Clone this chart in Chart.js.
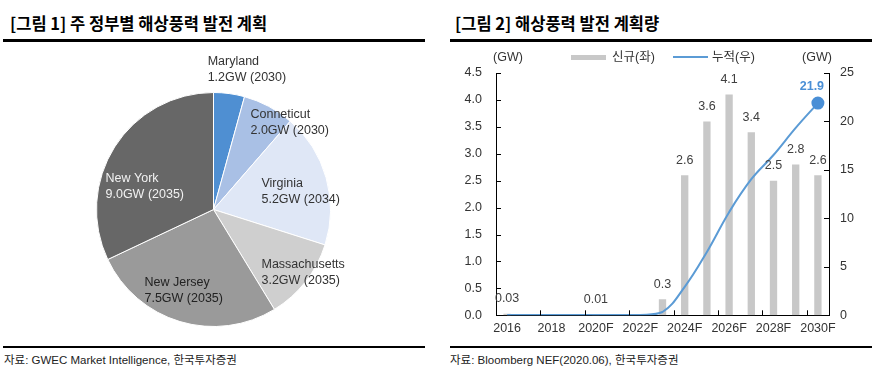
<!DOCTYPE html>
<html><head><meta charset="utf-8">
<script src="https://cdn.jsdelivr.net/npm/chart.js@4.4.1/dist/chart.umd.min.js"></script>
<style>
html,body{margin:0;padding:0;background:#fff;width:881px;height:374px;overflow:hidden;position:relative;}
.abs{position:absolute;white-space:nowrap;}
.title{font-family:"Noto Sans CJK KR",sans-serif;font-weight:700;font-size:16.5px;color:#000;line-height:20px;top:13px;}
.rule{position:absolute;background:#000;}
.src{font-family:"Liberation Sans Narrow","Liberation Sans","Noto Sans CJK KR",sans-serif;font-size:11.5px;color:#222;line-height:16px;top:352px;}
.lg{font-family:"Liberation Sans","Noto Sans CJK KR",sans-serif;font-size:12.5px;color:#333;line-height:16px;}
canvas{position:absolute;}
</style></head>
<body>
<div class="abs title" style="left:10px">[그림 1] 주 정부별 해상풍력 발전 계획</div>
<div class="abs title" style="left:455px">[그림 2] 해상풍력 발전 계획량</div>
<div class="rule" style="left:3px;top:39px;width:422px;height:3px"></div>
<div class="rule" style="left:450px;top:39px;width:422px;height:3px"></div>
<div class="rule" style="left:3px;top:346px;width:422px;height:2px"></div>
<div class="rule" style="left:450px;top:346px;width:422px;height:2px"></div>
<div class="abs src" style="left:4px">자료: GWEC Market Intelligence, 한국투자증권</div>
<div class="abs src" style="left:450px">자료: Bloomberg NEF(2020.06), 한국투자증권</div>

<canvas id="pie" width="440" height="345" style="left:0;top:0"></canvas>
<canvas id="combo" width="441" height="300" style="left:440px;top:45px"></canvas>

<div class="abs lg" style="left:478px;top:49px;width:60px;text-align:center">(GW)</div>
<div class="abs lg" style="left:787px;top:49px;width:60px;text-align:center">(GW)</div>
<div class="abs" style="left:571px;top:55px;width:35px;height:5px;background:#c8c8c8"></div>
<div class="abs lg" style="left:612px;top:49px">신규(좌)</div>
<div class="abs" style="left:673px;top:56px;width:35px;height:2px;background:#5b9bd5"></div>
<div class="abs lg" style="left:712px;top:49px">누적(우)</div>

<script>
// ---- Pie data ----
const states = ['Maryland','Conneticut','Virginia','Massachusetts','New Jersey','New York'];
const capacityGW = [1.2, 2.0, 5.2, 3.2, 7.5, 9.0];
const targetYears = ['2030','2030','2034','2035','2035','2035'];
const pieColors = ['#4f8fd2','#a9c0e5','#dfe7f6','#cfcfcf','#9a9a9a','#676767'];

// ---- Combo data ----
const years = ['2016','2017','2018','2019','2020F','2021F','2022F','2023F','2024F','2025F','2026F','2027F','2028F','2029F','2030F'];
const newCapacity = [0.03,0,0,0,0.01,0,0,0.3,2.6,3.6,4.1,3.4,2.5,2.8,2.6];
const cumulative = [0.03,0.03,0.03,0.03,0.04,0.04,0.04,0.34,2.94,6.54,10.64,14.04,16.54,19.34,21.9];
const leftTicks = [0,0.5,1.0,1.5,2.0,2.5,3.0,3.5,4.0,4.5];
const rightTicks = [0,5,10,15,20,25];

const FONT = '"Liberation Sans","Noto Sans CJK KR",sans-serif';

// pie label placement: [x, y] in units of the pie radius from the pie centre
const pieLabelPos = [[-0.05,-1.265],[0.316,-0.812],[0.41,-0.222],[0.41,0.47],[-0.59,0.621],[-0.923,-0.265]];
const pieLabelColors = ['#333','#333','#333','#333','#222','#f2f2f2'];

const pieLabels = {
  id:'pieLabels',
  afterDatasetsDraw(chart){
    const ctx = chart.ctx;
    const meta = chart.getDatasetMeta(0);
    ctx.save();
    ctx.font = '12.5px ' + FONT;
    ctx.textAlign = 'left';
    ctx.textBaseline = 'middle';
    meta.data.forEach((arc,i)=>{
      const p = arc.getProps(['x','y','outerRadius'], true);
      const lx = p.x + pieLabelPos[i][0]*p.outerRadius;
      const ly = p.y + pieLabelPos[i][1]*p.outerRadius;
      ctx.fillStyle = pieLabelColors[i];
      ctx.fillText(states[i], lx, ly);
      ctx.fillText(capacityGW[i].toFixed(1)+'GW ('+targetYears[i]+')', lx, ly+16);
    });
    ctx.restore();
  }
};

new Chart(document.getElementById('pie'), {
  type:'pie',
  data:{labels:states, datasets:[{data:capacityGW, backgroundColor:pieColors, borderColor:'#ffffff', borderWidth:1}]},
  options:{
    responsive:false, animation:false,
    layout:{padding:{left:96,top:92,right:109,bottom:18}},
    plugins:{legend:{display:false}, tooltip:{enabled:false}}
  },
  plugins:[pieLabels]
});

const comboDecor = {
  id:'comboDecor',
  afterDatasetsDraw(chart){
    const ctx = chart.ctx;
    const {left,right,top,bottom} = chart.chartArea;
    const xs = chart.scales.x, ys = chart.scales.y, ys1 = chart.scales.y1;
    ctx.save();
    // inward tick marks
    ctx.strokeStyle = '#000'; ctx.lineWidth = 1;
    ctx.beginPath();
    leftTicks.forEach(v=>{ const py = Math.round(ys.getPixelForValue(v))+0.5; ctx.moveTo(left, py); ctx.lineTo(left+5, py); });
    rightTicks.forEach(v=>{ const py = Math.round(ys1.getPixelForValue(v))+0.5; ctx.moveTo(right-5, py); ctx.lineTo(right, py); });
    const half = (xs.getPixelForValue(1)-xs.getPixelForValue(0))/2;
    for(let i=0;i<years.length;i+=2){
      const px = Math.round(xs.getPixelForValue(i)-half)+0.5;
      ctx.moveTo(px, bottom); ctx.lineTo(px, bottom-5);
    }
    ctx.stroke();
    // bar value labels
    const barMeta = chart.getDatasetMeta(1);
    ctx.font = '12.5px ' + FONT;
    ctx.fillStyle = '#404040';
    ctx.textAlign = 'center'; ctx.textBaseline = 'middle';
    barMeta.data.forEach((bar,i)=>{
      const v = newCapacity[i];
      if(!v) return;
      const txt = v < 0.1 ? v.toFixed(2) : v.toFixed(1);
      ctx.fillText(txt, bar.x, bar.y-15);
    });
    // last cumulative label
    const lineMeta = chart.getDatasetMeta(0);
    const last = lineMeta.data[lineMeta.data.length-1];
    ctx.font = 'bold 12.5px ' + FONT;
    ctx.fillStyle = '#4a8fd6';
    ctx.fillText(cumulative[cumulative.length-1].toFixed(1), last.x-6, last.y-16);
    ctx.restore();
  }
};

const tickFont = {family:FONT, size:12.5};
new Chart(document.getElementById('combo'), {
  type:'bar',
  data:{
    labels:years,
    datasets:[
      {type:'line', label:'누적(우)', data:cumulative, yAxisID:'y1', order:0,
       borderColor:'#5b9bd5', borderWidth:2, tension:0.4, fill:false,
       pointRadius:ctx=>ctx.dataIndex===cumulative.length-1?5.5:0,
       pointBackgroundColor:'#4a8fd6', pointBorderColor:'#4a8fd6'},
      {type:'bar', label:'신규(좌)', data:newCapacity, yAxisID:'y', order:1,
       backgroundColor:'#c8c8c8', categoryPercentage:1, barPercentage:0.33}
    ]
  },
  options:{
    responsive:false, animation:false,
    layout:{padding:{top:28,left:0,right:0,bottom:0}},
    plugins:{legend:{display:false}, tooltip:{enabled:false}},
    scales:{
      x:{offset:true, grid:{display:false, drawTicks:false, offset:true},
         border:{display:true, color:'#000', width:1},
         ticks:{autoSkip:false, maxRotation:0, minRotation:0, padding:6, color:'#333', font:tickFont,
                callback:(v,i)=> i%2===0 ? years[i] : ''},
         afterFit:s=>{s.height=29.7;}},
      y:{position:'left', min:0, max:4.5,
         grid:{display:false, drawTicks:false},
         border:{display:true, color:'#000', width:1},
         ticks:{stepSize:0.5, padding:14, color:'#333', font:tickFont, callback:v=>Number(v).toFixed(1)},
         afterFit:s=>{s.width=56;}},
      y1:{position:'right', min:0, max:25,
         grid:{display:false, drawTicks:false},
         border:{display:true, color:'#000', width:1},
         ticks:{stepSize:5, padding:11, color:'#333', font:tickFont},
         afterFit:s=>{s.width=52;}}
    }
  },
  plugins:[comboDecor]
});
</script>
</body></html>
